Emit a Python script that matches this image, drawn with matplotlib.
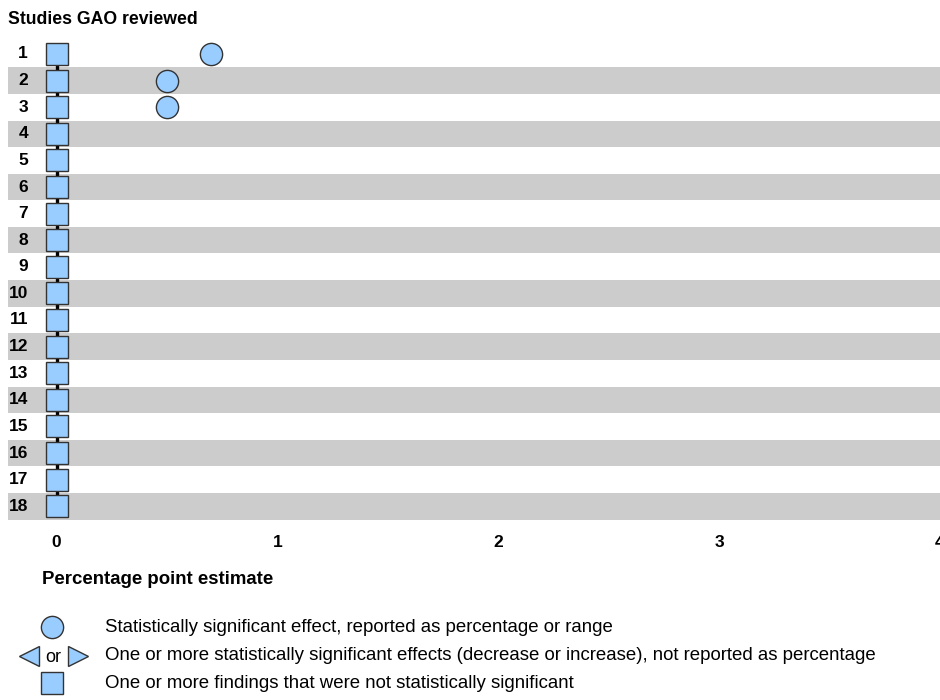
import matplotlib.pyplot as plt
from matplotlib import transforms

plt.rcParams['font.family'] = ['Liberation Sans', 'DejaVu Sans']

# 데이터
studies = list(range(1, 19))
sig_pct_studies = [1, 2, 3]          # 유의한 효과(퍼센트 보고)
sig_pct_values = [0.7, 0.5, 0.5]
nonsig_studies = list(range(1, 19))  # 유의하지 않은 결과
nonsig_values = [0] * 18
xticks = [0, 1, 2, 3, 4]

blue = '#99CCFF'
edge = '#333333'

fig = plt.figure(figsize=(9.4, 7), dpi=100)
ax = fig.add_axes([8 / 940, 1 - 519.5 / 700, 1 - 8 / 940, (519.5 - 40.7) / 700])
ax.set_xlim(-0.22, 3.97)
ax.set_ylim(18.5, 0.5)

for s in studies:
    if s % 2 == 0:
        ax.axhspan(s - 0.5, s + 0.5, color='#CCCCCC', lw=0, zorder=0)

ax.plot([0, 0], [min(nonsig_studies), max(nonsig_studies)], color='black', lw=2.4, zorder=2)
ax.plot(nonsig_values, nonsig_studies, ls='none', marker='s', markersize=15.5,
        markerfacecolor=blue, markeredgecolor=edge, markeredgewidth=1, zorder=3)
ax.plot(sig_pct_values, sig_pct_studies, ls='none', marker='o', markersize=16,
        markerfacecolor=blue, markeredgecolor=edge, markeredgewidth=1, zorder=3)

# 행 번호
tr = transforms.blended_transform_factory(fig.transFigure, ax.transData)
for s in studies:
    ax.text(28 / 940, s, str(s), transform=tr, ha='right', va='center',
            fontsize=12.5, fontweight='bold')

ax.set_xticks(xticks)
ax.set_xticklabels([str(t) for t in xticks], fontsize=12.5, fontweight='bold')
ax.tick_params(axis='x', length=0, pad=11)
ax.set_yticks([])
for sp in ax.spines.values():
    sp.set_visible(False)

fig.text(8 / 940, 1 - 20 / 700, 'Studies GAO reviewed', fontsize=12.7, fontweight='bold',
         ha='left', va='center')
fig.text(42 / 940, 1 - 579 / 700, 'Percentage point estimate', fontsize=13.4,
         fontweight='bold', ha='left', va='center')

# 범례
def fy(p):
    return 1 - p / 700

fig.lines.append(plt.Line2D([52 / 940], [fy(627)], transform=fig.transFigure, ls='none',
                            marker='o', markersize=16, markerfacecolor=blue,
                            markeredgecolor=edge, markeredgewidth=1))
fig.lines.append(plt.Line2D([29 / 940], [fy(656)], transform=fig.transFigure, ls='none',
                            marker='<', markersize=15, markerfacecolor=blue,
                            markeredgecolor=edge, markeredgewidth=1))
fig.lines.append(plt.Line2D([78 / 940], [fy(656)], transform=fig.transFigure, ls='none',
                            marker='>', markersize=15, markerfacecolor=blue,
                            markeredgecolor=edge, markeredgewidth=1))
fig.text(53 / 940, fy(657), 'or', fontsize=13, ha='center', va='center')
fig.lines.append(plt.Line2D([52 / 940], [fy(683)], transform=fig.transFigure, ls='none',
                            marker='s', markersize=15.5, markerfacecolor=blue,
                            markeredgecolor=edge, markeredgewidth=1))

legend_texts = ['Statistically significant effect, reported as percentage or range',
                'One or more statistically significant effects (decrease or increase), not reported as percentage',
                'One or more findings that were not statistically significant']
for txt, yp in zip(legend_texts, [627, 656, 683]):
    fig.text(105 / 940, fy(yp), txt, fontsize=13.4, ha='left', va='center')

fig.savefig('out.png', dpi=100)
